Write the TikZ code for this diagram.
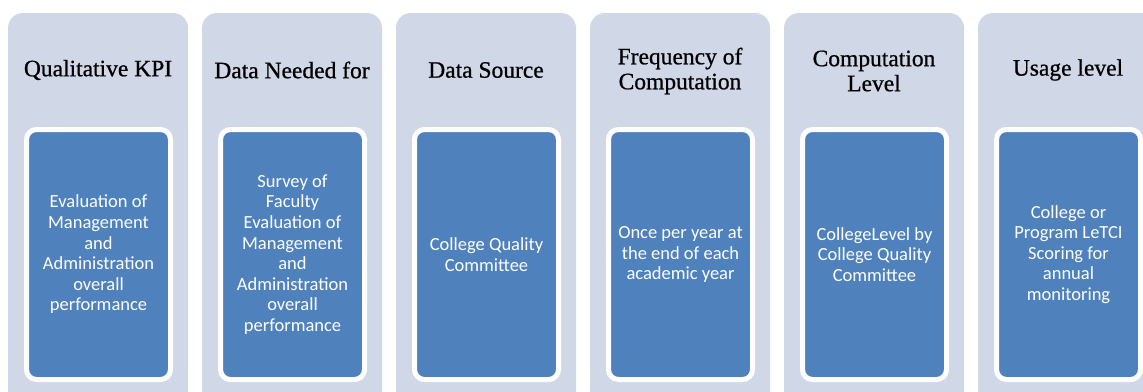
\documentclass[tikz,border=0pt]{standalone}
\usepackage{fontspec}
\setmainfont{Liberation Serif}
\newfontfamily\headfont[FakeBold=0.8]{Liberation Serif}
\newfontfamily\boxfont{Carlito}
\definecolor{cardgray}{HTML}{D0D8E8}
\definecolor{boxblue}{HTML}{4F81BD}
\begin{document}
\begin{tikzpicture}[x=1pt,y=-1pt,
  card/.style={fill=cardgray,rounded corners=15pt,minimum width=180pt,minimum height=400pt,inner sep=0pt},
  head/.style={align=center,font=\headfont\fontsize{23.5}{25}\selectfont},
  bluebox/.style={fill=boxblue,draw=white,line width=5pt,rounded corners=10pt,minimum width=144pt,minimum height=250pt,inner sep=0pt,
    align=center,text=white,font=\boxfont\fontsize{18.5}{20.6}\selectfont}]
\useasboundingbox (0,0) rectangle (1143,391);
\clip (0,0) rectangle (1143,391);

\node[card] (kpicard) at (98,213) {}; % column 1
\node[card] (needcard) at (292,213) {}; % column 2
\node[card] (srccard) at (486,213) {}; % column 3
\node[card] (freqcard) at (680,213) {}; % column 4
\node[card] (levelcard) at (874,213) {}; % column 5
\node[card] (usecard) at (1068,213) {}; % column 6, cut off

\node[head] (kpihead) at (98,70) {Qualitative KPI};
\node[head] (needhead) at (292,70) {Data Needed for};
\node[head] (srchead) at (486,70) {Data Source};
\node[head] (freqhead) at (680,71) {Frequency of\\Computation};
\node[head] (levelhead) at (874,71) {Computation\\Level};
\node[head] (usehead) at (1068,70) {Usage level};

\node[bluebox] (kpibox) at (98.5,254.5) {Evaluation of\\Management\\and\\Administration\\overall\\performance};
\node[bluebox] (needbox) at (292.5,254.5) {Survey of\\Faculty\\Evaluation of\\Management\\and\\Administration\\overall\\performance};
\node[bluebox] (srcbox) at (486.5,254.5) {College Quality\\Committee};
\node[bluebox] (freqbox) at (680.5,254.5) {Once per year at\\the end of each\\academic year};
\node[bluebox] (levelbox) at (874.5,254.5) {CollegeLevel by\\College Quality\\Committee};
\node[bluebox] (usebox) at (1068.5,254.5) {College or\\Program LeTCI\\Scoring for\\annual\\monitoring};

\end{tikzpicture}
\end{document}
